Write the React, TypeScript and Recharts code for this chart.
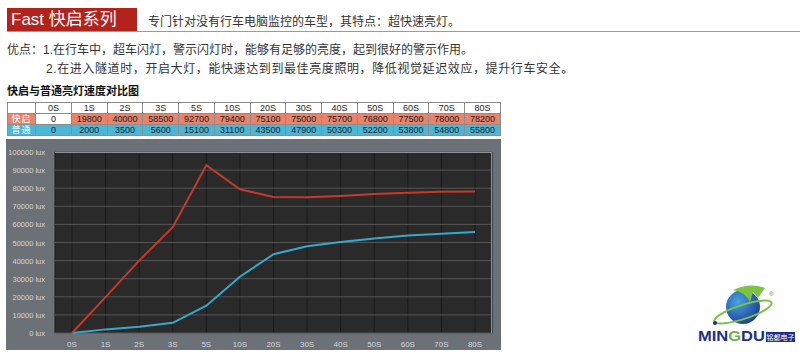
import React from 'react';
import { CartesianGrid, Line, LineChart, XAxis, YAxis } from 'recharts';

const times = ['0S', '1S', '2S', '3S', '5S', '10S', '20S', '30S', '40S', '50S', '60S', '70S', '80S'];
const fastValues = [0, 19800, 40000, 58500, 92700, 79400, 75100, 75000, 75700, 76800, 77500, 78000, 78200];
const normalValues = [0, 2000, 3500, 5600, 15100, 31100, 43500, 47900, 50300, 52200, 53800, 54800, 55800];
const yTicks = [0, 10000, 20000, 30000, 40000, 50000, 60000, 70000, 80000, 90000, 100000];

const chartData = times.map((t, i) => ({ name: t, fast: fastValues[i], normal: normalValues[i] }));

const FONT = '"Liberation Sans", Arial, "Noto Sans CJK SC", sans-serif';

const cell: React.CSSProperties = {
  border: '1px solid #8c8c8c',
  padding: 0,
  height: 10,
  lineHeight: '10px',
  fontSize: 9,
  textAlign: 'center',
  color: '#222',
};

function DataTable() {
  const rows = [
    { label: '快启', bg: '#e9836b', values: fastValues },
    { label: '普通', bg: '#4cb6d6', values: normalValues },
  ];
  return (
    <table
      style={{
        position: 'absolute', left: 7, top: 102, width: 494,
        borderCollapse: 'collapse', tableLayout: 'fixed', fontFamily: FONT,
      }}
    >
      <tbody>
        <tr>
          <td style={{ ...cell, width: 27 }} />
          {times.map((t) => (
            <td key={t} style={cell}>{t}</td>
          ))}
        </tr>
        {rows.map((r) => (
          <tr key={r.label}>
            <td style={{ ...cell, background: r.bg, color: '#fff', letterSpacing: 1 }}>{r.label}</td>
            {r.values.map((v, i) => (
              <td key={i} style={{ ...cell, background: i === 0 && r.label === '快启' ? '#fff' : r.bg }}>{v}</td>
            ))}
          </tr>
        ))}
      </tbody>
    </table>
  );
}

function YTick(props: any) {
  const { x, y, payload } = props;
  return (
    <text x={x - 2} y={y} dy={3} fontSize={7.5} fill="#d4d7da" textAnchor="end" fontFamily={FONT}>
      {`${payload.value} lux`}
    </text>
  );
}

function Logo() {
  return (
    <svg style={{ position: 'absolute', left: 695, top: 280 }} width={105} height={65}>
      <defs>
        <radialGradient id="ball" cx="35%" cy="35%" r="70%">
          <stop offset="0%" stopColor="#4aa3e0" />
          <stop offset="100%" stopColor="#1c3f9a" />
        </radialGradient>
      </defs>
      <circle cx={48} cy={27} r={17} fill="url(#ball)" />
      <path d="M38 10 Q55 2 70 8 L63 18 L58 12 L55 22 Q50 12 38 10 Z" fill="#7cc243" />
      <ellipse cx={48} cy={32} rx={30} ry={7} fill="none" stroke="#7cc243" strokeWidth={2} transform="rotate(-18 48 32)" />
      <circle cx={20} cy={43} r={2} fill="#1c2f8a" />
      <text x={74} y={16} fontSize={6} fill="#666" fontFamily={FONT}>®</text>
      <text x={3} y={61} fontSize={15} fontWeight="bold" fill="#1f2e86" fontFamily={FONT} textLength={67} lengthAdjust="spacingAndGlyphs">
        MIN<tspan fill="#6cb33f">G</tspan>DU
      </text>
      <rect x={71} y={52} width={29} height={10} fill="#1f2e86" />
      <text x={85.5} y={60} fontSize={7} fill="#fff" textAnchor="middle" fontFamily={FONT}>铭都电子</text>
    </svg>
  );
}

export default function App() {
  return (
    <div
      style={{
        position: 'absolute', left: 0, top: 0, width: 800, height: 357,
        background: '#fff', overflow: 'hidden', fontFamily: FONT,
      }}
    >
      <div
        style={{
          position: 'absolute', left: 7, top: 8, width: 130, height: 24,
          background: '#b3221b', color: '#fff', fontSize: 17, lineHeight: '24px', paddingLeft: 4,
          boxSizing: 'border-box',
        }}
      >
        Fast 快启系列
      </div>
      <div style={{ position: 'absolute', left: 7, top: 31, width: 793, height: 1, background: '#9a9a9a' }} />
      <div style={{ position: 'absolute', left: 148, top: 12, fontSize: 12, color: '#333', whiteSpace: 'nowrap' }}>
        专门针对没有行车电脑监控的车型，其特点：超快速亮灯。
      </div>
      <div style={{ position: 'absolute', left: 7, top: 40, fontSize: 12, color: '#333', whiteSpace: 'nowrap' }}>
        优点：1.在行车中，超车闪灯，警示闪灯时，能够有足够的亮度，起到很好的警示作用。
      </div>
      <div style={{ position: 'absolute', left: 46, top: 59, fontSize: 12, color: '#333', whiteSpace: 'nowrap', letterSpacing: 0.6 }}>
        2.在进入隧道时，开启大灯，能快速达到到最佳亮度照明，降低视觉延迟效应，提升行车安全。
      </div>
      <div style={{ position: 'absolute', left: 7, top: 82, fontSize: 11, fontWeight: 'bold', color: '#111', whiteSpace: 'nowrap' }}>
        快启与普通亮灯速度对比图
      </div>

      <DataTable />

      <div style={{ position: 'absolute', left: 6, top: 139, width: 495, height: 211, background: '#6c7177' }}>
        <LineChart width={495} height={211} data={chartData} margin={{ top: 13, right: 9, left: 0, bottom: 0 }}>
          <CartesianGrid fill="#2a2a2a" horizontal={false} stroke="#1a1a1a" />
          <CartesianGrid vertical={false} stroke="#555555" />
          <XAxis
            dataKey="name"
            height={17}
            padding={{ left: 17, right: 17 }}
            axisLine={false}
            tickLine={false}
            tick={{ fontSize: 8, fill: '#d4d7da' }}
            interval={0}
          />
          <YAxis
            width={49}
            domain={[0, 100000]}
            ticks={yTicks}
            axisLine={false}
            tickLine={false}
            tick={<YTick />}
            interval={0}
          />
          <Line type="linear" dataKey="normal" stroke="#35a9cc" strokeWidth={2} dot={false} isAnimationActive={false} />
          <Line type="linear" dataKey="fast" stroke="#c53a2a" strokeWidth={2} dot={false} isAnimationActive={false} />
        </LineChart>
        <div
          style={{
            position: 'absolute', left: 49, top: 13, width: 437, height: 181,
            border: '1px solid #8d9094', borderLeft: 'none', borderBottom: 'none', boxSizing: 'border-box',
            pointerEvents: 'none',
          }}
        />
      </div>

      <Logo />
    </div>
  );
}
